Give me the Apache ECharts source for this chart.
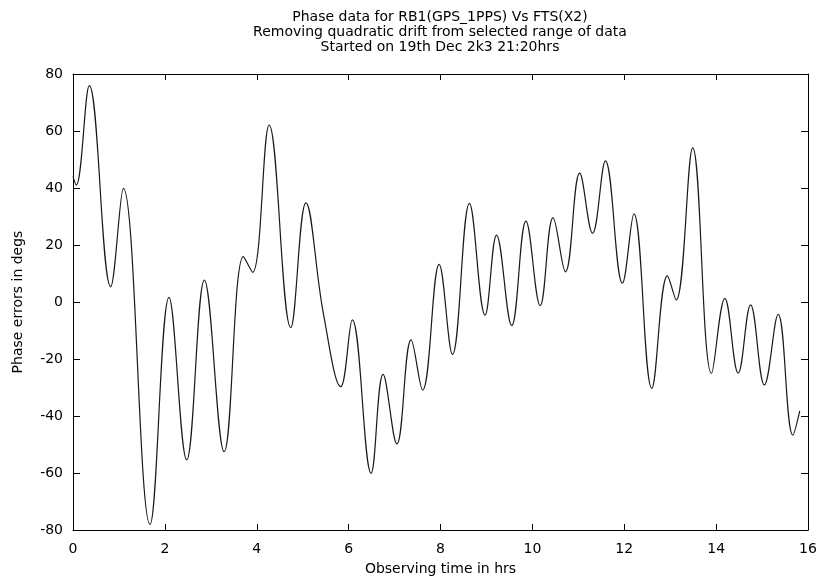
<!DOCTYPE html>
<html>
<head>
<meta charset="utf-8">
<script src="https://cdn.jsdelivr.net/npm/echarts@6/dist/echarts.min.js"></script>
<style>
html,body{margin:0;padding:0;background:#fff;}
#chart{width:823px;height:583px;}
</style>
</head>
<body>
<div id="chart"></div>
<script>
const titleLines = [
  'Phase data for RB1(GPS_1PPS) Vs FTS(X2)',
  'Removing quadratic drift from selected range of data',
  'Started on 19th Dec 2k3 21:20hrs'
];
const xName = 'Observing time in hrs';
const yName = 'Phase errors in degs';
const xTicks = [0, 2, 4, 6, 8, 10, 12, 14, 16];
const yTicks = [-80, -60, -40, -20, 0, 20, 40, 60, 80];

const timeHrs = [0, 0.07, 0.355, 0.82, 1.095, 1.676, 2.09, 2.475, 2.86, 3.29, 3.71, 3.91, 4.27, 4.74, 5.07, 5.45, 5.83, 6.08, 6.49, 6.75, 7.05, 7.36, 7.61, 7.97, 8.26, 8.63, 8.97, 9.22, 9.55, 9.86, 10.17, 10.45, 10.72, 11.03, 11.31, 11.59, 11.96, 12.21, 12.60, 12.94, 13.13, 13.49, 13.90, 14.19, 14.48, 14.75, 15.05, 15.35, 15.67, 15.82];
const phaseErr = [44, 41, 75.9, 5.4, 39.9, -78, 1.6, -55.4, 7.7, -52.5, 15.9, 10.4, 62.1, -9, 34.8, -4, -29.7, -6.3, -60.1, -25.4, -49.8, -13.3, -30.9, 13.2, -18.4, 34.6, -4.6, 23.5, -8.3, 28.4, -1.3, 29.6, 10.6, 45.2, 24.1, 49.5, 6.6, 30.9, -30.3, 9.2, 0.7, 54.1, -25, 1.3, -25, -1, -29.1, -4.3, -46.7, -38.2];

const seriesData = timeHrs.map((t, i) => [t, phaseErr[i]]);
const FONT = 'DejaVu Sans';
const xMin = xTicks[0], xMax = xTicks[xTicks.length - 1], xInt = xTicks[1] - xTicks[0];
const yMin = yTicks[0], yMax = yTicks[yTicks.length - 1], yInt = yTicks[1] - yTicks[0];

const axisLine = {show: true, onZero: false, lineStyle: {color: '#000', width: 1}};
const chart = echarts.init(document.getElementById('chart'), null, {renderer: 'canvas'});
chart.setOption({
  animation: false,
  backgroundColor: '#fff',
  title: {
    text: titleLines.join('\n'),
    left: 435,
    top: 5,
    textAlign: 'center',
    textStyle: {fontFamily: FONT, fontSize: 14, fontWeight: 'normal', color: '#000', lineHeight: 15}
  },
  grid: {left: 73, right: 15, top: 74, bottom: 53, containLabel: false},
  xAxis: [{
    type: 'value', min: xMin, max: xMax, interval: xInt, position: 'bottom',
    name: xName, nameLocation: 'middle', nameGap: 32,
    nameTextStyle: {fontFamily: FONT, fontSize: 14, color: '#000'},
    axisLine: axisLine,
    axisTick: {show: true, inside: true, length: 6, lineStyle: {color: '#000'}},
    axisLabel: {fontFamily: FONT, fontSize: 14, color: '#000', margin: 12},
    splitLine: {show: false}
  }, {
    type: 'value', min: xMin, max: xMax, interval: xInt, position: 'top',
    axisLine: axisLine,
    axisTick: {show: true, inside: true, length: 6, lineStyle: {color: '#000'}},
    axisLabel: {show: false},
    splitLine: {show: false}
  }],
  yAxis: [{
    type: 'value', min: yMin, max: yMax, interval: yInt, position: 'left',
    name: yName, nameLocation: 'middle', nameGap: 48, nameRotate: 90,
    nameTextStyle: {fontFamily: FONT, fontSize: 14, color: '#000'},
    axisLine: axisLine,
    axisTick: {show: true, inside: true, length: 7, lineStyle: {color: '#000'}},
    axisLabel: {fontFamily: FONT, fontSize: 14, color: '#000', margin: 10},
    splitLine: {show: false}
  }, {
    type: 'value', min: yMin, max: yMax, interval: yInt, position: 'right',
    axisLine: axisLine,
    axisTick: {show: true, inside: true, length: 7, lineStyle: {color: '#000'}},
    axisLabel: {show: false},
    splitLine: {show: false}
  }],
  series: [{
    type: 'line',
    data: seriesData,
    xAxisIndex: 0, yAxisIndex: 0,
    smooth: 0.4,
    showSymbol: false,
    lineStyle: {color: '#1a1a1a', width: 1.2}
  }]
});
</script>
</body>
</html>
